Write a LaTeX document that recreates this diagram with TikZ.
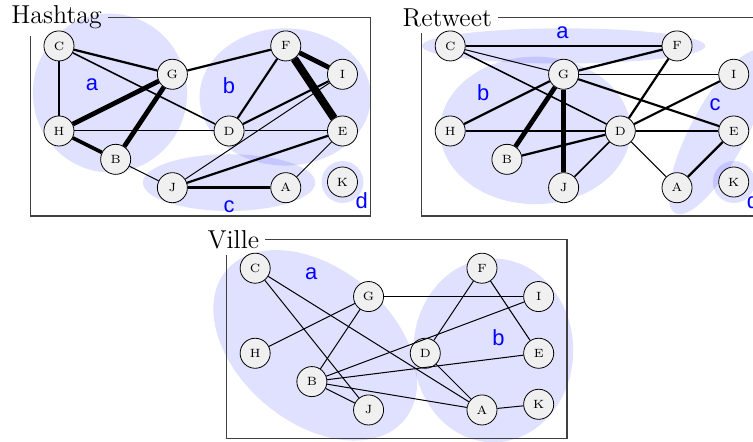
\documentclass[tikz,border=0pt]{standalone}
\usepackage{fontspec}
\newfontfamily\tagfont{Liberation Sans}

\begin{document}
\begin{tikzpicture}[
    vertex/.style={circle, draw, fill=black!6, minimum size=0.53cm, inner sep=0pt, font=\fontsize{6}{7}\selectfont},
    cluster/.style={fill=blue, fill opacity=0.12},
    tag/.style={text=blue, inner sep=0pt, font=\tagfont\fontsize{11}{13}\selectfont},
    panel/.style={anchor=west, inner sep=3pt, font=\fontsize{13}{16}\selectfont},
    box/.style={draw=black!75, line width=0.6pt},
    w1/.style={line width=0.5pt},
    w2/.style={line width=0.8pt},
    w3/.style={line width=1.1pt},
    w4/.style={line width=1.8pt},
    w5/.style={line width=2.4pt},
    w6/.style={line width=4pt}
]
    \useasboundingbox (0,0) rectangle (13.28,-7.778);

    % Hashtag
    \begin{scope}[shift={(1.04,-0.81)}, name prefix=h-]
    \fill[cluster] (0.9,-0.83) ellipse [x radius=1.36, y radius=1.4];
    \fill[cluster] (3.99,-0.9) ellipse [x radius=1.51, y radius=1.21];
    \fill[cluster] (3.0,-2.41) ellipse [x radius=1.52, y radius=0.5];
    \fill[cluster] (5,-2.4) circle [radius=0.37];
    \node[tag] (a) at (0.58,-0.69) {a};
    \node[tag] (b) at (3.0,-0.7) {b};
    \node[tag] (c) at (3.0,-2.84) {c};
    \node[tag] (d) at (5.34,-2.73) {d};

    \node[panel] (title) at (-0.95,0.5) {Hashtag};
    \coordinate (corner) at (-0.5,0.5);
    \draw[box] (title.east) -| (5.5,-3) -| (corner |- title.south);

    \node[vertex] (C) at (0,0) {C};
    \node[vertex] (G) at (2,-0.5) {G};
    \node[vertex] (F) at (4,0) {F};
    \node[vertex] (I) at (5,-0.5) {I};
    \node[vertex] (H) at (0,-1.5) {H};
    \node[vertex] (D) at (3,-1.5) {D};
    \node[vertex] (E) at (5,-1.5) {E};
    \node[vertex] (B) at (1,-2) {B};
    \node[vertex] (J) at (2,-2.5) {J};
    \node[vertex] (A) at (4,-2.5) {A};
    \node[vertex] (K) at (5,-2.4) {K};

    \draw[w3] (C) -- (G);
    \draw[w3] (C) -- (H);
    \draw[w2] (C) -- (D);
    \draw[w3] (G) -- (F);
    \draw[w5] (G) -- (H);
    \draw[w5] (G) -- (B);
    \draw[w4] (H) -- (B);
    \draw[w1] (H) -- (D);
    \draw[w1] (D) -- (E);
    \draw[w3] (F) -- (D);
    \draw[w5] (F) -- (I);
    \draw[w6] (F) -- (E);
    \draw[w3] (I) -- (D);
    \draw[w1] (I) -- (J);
    \draw[w3] (E) -- (J);
    \draw[w1] (E) -- (A);
    \draw[w4] (J) -- (A);
    \draw[w1] (B) -- (J);
    \end{scope}

    % Retweet
    \begin{scope}[shift={(7.94,-0.81)}, name prefix=r-]
    \fill[cluster] (2.0,0) ellipse [x radius=2.5, y radius=0.31];
    \fill[cluster] (1.5,-1.49) ellipse [x radius=1.68, y radius=1.3];
    \fill[cluster, rotate around={62:(4.73,-1.52)}] (4.73,-1.52) ellipse [x radius=1.62, y radius=0.49];
    \fill[cluster] (5,-2.4) circle [radius=0.37];
    \node[tag] (a) at (1.98,0.23) {a};
    \node[tag] (b) at (0.58,-0.83) {b};
    \node[tag] (c) at (4.67,-1.04) {c};
    \node[tag] (d) at (5.34,-2.73) {d};

    \node[panel] (title) at (-0.95,0.5) {Retweet};
    \coordinate (corner) at (-0.5,0.5);
    \draw[box] (title.east) -| (5.5,-3) -| (corner |- title.south);

    \node[vertex] (C) at (0,0) {C};
    \node[vertex] (G) at (2,-0.5) {G};
    \node[vertex] (F) at (4,0) {F};
    \node[vertex] (I) at (5,-0.5) {I};
    \node[vertex] (H) at (0,-1.5) {H};
    \node[vertex] (D) at (3,-1.5) {D};
    \node[vertex] (E) at (5,-1.5) {E};
    \node[vertex] (B) at (1,-2) {B};
    \node[vertex] (J) at (2,-2.5) {J};
    \node[vertex] (A) at (4,-2.5) {A};
    \node[vertex] (K) at (5,-2.4) {K};

    \draw[w3] (C) -- (F);
    \draw[w1] (C) -- (G);
    \draw[w2] (C) -- (D);
    \draw[w3] (G) -- (F);
    \draw[w1] (G) -- (I);
    \draw[w3] (G) -- (E);
    \draw[w3] (G) -- (H);
    \draw[w5] (G) -- (B);
    \draw[w5] (G) -- (J);
    \draw[w3] (H) -- (D);
    \draw[w3] (D) -- (E);
    \draw[w3] (D) -- (F);
    \draw[w3] (D) -- (I);
    \draw[w3] (D) -- (B);
    \draw[w2] (D) -- (J);
    \draw[w1] (D) -- (A);
    \draw[w3] (E) -- (A);
    \end{scope}

    % Ville
    \begin{scope}[shift={(4.5,-4.73)}, name prefix=v-]
    \fill[cluster, rotate around={-40:(1.06,-1.36)}] (1.06,-1.36) ellipse [x radius=2.05, y radius=1.36];
    \fill[cluster] (4.2,-1.45) ellipse [x radius=1.41, y radius=1.62];
    \node[tag] (a) at (0.99,-0.1) {a};
    \node[tag] (b) at (4.29,-1.23) {b};

    \node[panel] (title) at (-0.95,0.5) {Ville};
    \coordinate (corner) at (-0.5,0.5);
    \draw[box] (title.east) -| (5.5,-3) -| (corner |- title.south);

    \node[vertex] (C) at (0,0) {C};
    \node[vertex] (G) at (2,-0.5) {G};
    \node[vertex] (F) at (4,0) {F};
    \node[vertex] (I) at (5,-0.5) {I};
    \node[vertex] (H) at (0,-1.5) {H};
    \node[vertex] (D) at (3,-1.5) {D};
    \node[vertex] (E) at (5,-1.5) {E};
    \node[vertex] (B) at (1,-2) {B};
    \node[vertex] (J) at (2,-2.5) {J};
    \node[vertex] (A) at (4,-2.5) {A};
    \node[vertex] (K) at (5,-2.4) {K};

    \draw[w1] (C) -- (J);
    \draw[w1] (C) -- (A);
    \draw[w1] (G) -- (I);
    \draw[w1] (G) -- (H);
    \draw[w1] (G) -- (B);
    \draw[w1] (F) -- (D);
    \draw[w1] (F) -- (E);
    \draw[w1] (I) -- (B);
    \draw[w1] (D) -- (A);
    \draw[w1] (E) -- (B);
    \draw[w1] (B) -- (J);
    \draw[w1] (B) -- (A);
    \draw[w1] (A) -- (K);
    \end{scope}
\end{tikzpicture}
\end{document}
